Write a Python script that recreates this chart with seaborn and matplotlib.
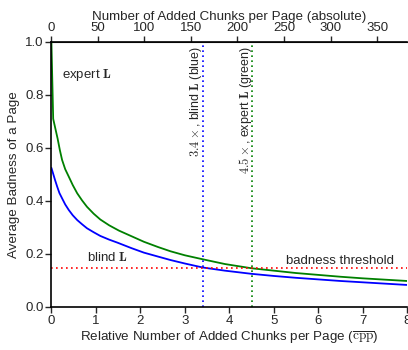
import numpy as np
import pandas as pd
import matplotlib
matplotlib.use("Agg")
import matplotlib.pyplot as plt
import seaborn as sns

# data
expert_x = [0.0, 0.04, 0.1, 0.14, 0.19, 0.24, 0.31, 0.39, 0.48, 0.58, 0.69, 0.8, 0.95, 1.1, 1.3, 1.52,
            1.8, 2.08, 2.4, 2.68, 3.0, 3.4, 3.9, 4.5, 5.0, 5.5, 6.0, 6.5, 7.0, 7.5, 8.0]
expert_y = [1.0, 0.71, 0.665, 0.635, 0.592, 0.555, 0.52, 0.492, 0.46, 0.429, 0.402, 0.378, 0.352, 0.33, 0.308, 0.288,
            0.267, 0.246, 0.226, 0.21, 0.195, 0.18, 0.162, 0.146, 0.137, 0.128, 0.121, 0.114, 0.108, 0.103, 0.098]
blind_x = [0.0, 0.08, 0.13, 0.18, 0.24, 0.31, 0.39, 0.48, 0.58, 0.69, 0.8, 0.95, 1.1, 1.3, 1.48,
           1.8, 2.08, 2.4, 2.68, 3.0, 3.4, 3.9, 4.5, 5.0, 5.5, 6.0, 6.5, 7.0, 7.5, 8.0]
blind_y = [0.525, 0.48, 0.454, 0.43, 0.41, 0.387, 0.366, 0.346, 0.328, 0.312, 0.297, 0.282, 0.268, 0.254, 0.243,
           0.222, 0.205, 0.19, 0.177, 0.164, 0.149, 0.137, 0.125, 0.117, 0.11, 0.104, 0.098, 0.093, 0.088, 0.083]
threshold = 0.147
blind_mark = 3.4
expert_mark = 4.5
chunks_per_unit = 47.8
top_ticks = [0, 50, 100, 150, 200, 250, 300, 350]
bottom_ticks = [0, 1, 2, 3, 4, 5, 6, 7, 8]
y_ticks = [0.0, 0.2, 0.4, 0.6, 0.8, 1.0]

sns.set_style("ticks")
plt.rcParams["font.family"] = ["Liberation Sans", "DejaVu Sans"]
plt.rcParams["mathtext.fontset"] = "cm"

fig = plt.figure(figsize=(4.08, 3.5), dpi=100)
ax = fig.add_axes([0.126, 0.123, 0.872, 0.757])

df_e = pd.DataFrame({"x": expert_x, "y": expert_y})
df_b = pd.DataFrame({"x": blind_x, "y": blind_y})
sns.lineplot(data=df_e, x="x", y="y", ax=ax, color="#008000", lw=1.3, sort=False, estimator=None)
sns.lineplot(data=df_b, x="x", y="y", ax=ax, color="#0000ff", lw=1.3, sort=False, estimator=None)

ax.axhline(threshold, color="#ff0000", ls=(0, (1, 2)), lw=1.2)
ax.axvline(blind_mark, color="#0000ff", ls=(0, (1, 2)), lw=1.2)
ax.axvline(expert_mark, color="#008000", ls=(0, (1, 2)), lw=1.2)

ax.set_xlim(0, 8)
ax.set_ylim(0, 1)
ax.set_xticks(bottom_ticks)
ax.set_yticks(y_ticks)
ax.set_yticklabels([f"{v:.1f}" for v in y_ticks])
ax.tick_params(labelsize=9.5, length=4, width=1, pad=1.5)
for s in ["left", "bottom", "top"]:
    ax.spines[s].set_linewidth(1.2)
    ax.spines[s].set_color("black")
ax.spines["right"].set_visible(False)

ax.set_xlabel(r"Relative Number of Added Chunks per Page ($\overline{\rm cpp}$)", fontsize=9.6, labelpad=2)
ax.set_ylabel("Average Badness of a Page", fontsize=9.6, labelpad=4)

sec = ax.secondary_xaxis("top", functions=(lambda v: v * chunks_per_unit, lambda v: v / chunks_per_unit))
sec.set_xticks(top_ticks)
sec.tick_params(labelsize=9.5, length=4, width=1, pad=1.5)
sec.set_xlabel("Number of Added Chunks per Page (absolute)", fontsize=9.6, labelpad=2)

ax.text(0.23, 0.875, r"expert $\mathbf{L}$", fontsize=9.5, va="center", ha="left")
ax.text(0.8, 0.187, r"blind $\mathbf{L}$", fontsize=9.5, va="center", ha="left")
ax.text(7.7, 0.172, "badness threshold", fontsize=9.5, va="center", ha="right")
ax.text(blind_mark - 0.14, 0.985, r"$3.4\times$, blind $\mathbf{L}$ (blue)", rotation=90,
        fontsize=9, va="top", ha="center")
ax.text(expert_mark - 0.14, 0.985, r"$4.5\times$, expert $\mathbf{L}$ (green)", rotation=90,
        fontsize=9, va="top", ha="center")

fig.savefig("out.png", dpi=100)
